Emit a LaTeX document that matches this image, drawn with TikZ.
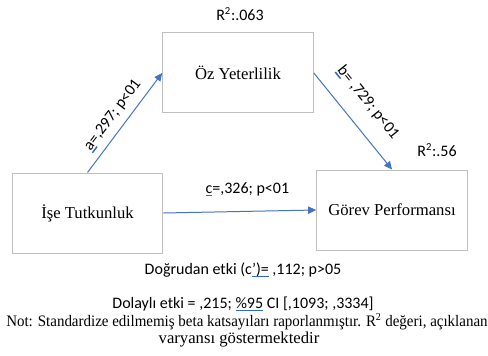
\documentclass[tikz,border=0pt]{standalone}
\usepackage{fontspec}
\usepackage{graphicx}
\setmainfont{Liberation Serif}
\newfontfamily\calibri{Carlito}
\usetikzlibrary{arrows.meta}
\definecolor{arrowblue}{HTML}{4472C4}
\definecolor{boxgray}{HTML}{BFBFBF}
\definecolor{markblue}{HTML}{2F66D0}
% blue underline mark under a word
\newcommand{\wordmark}[1]{\setbox0\hbox{#1}\rlap{\color{markblue}\rule[-2.2pt]{\wd0}{1.1pt}}\box0\relax}
\begin{document}
\begin{tikzpicture}[x=0.75pt, y=-0.75pt,
    var/.style={draw=boxgray, line width=0.75pt, minimum width=113pt, minimum height=60pt, font=\fontsize{12.5}{15}\selectfont},
    effect/.style={draw=arrowblue, line width=0.75pt, -{Triangle[length=6pt, width=5.5pt]}},
    coef/.style={font=\calibri\fontsize{12}{14}\selectfont}]
\useasboundingbox (0,0) rectangle (488,356);
\node[var] (oz) at (238,73) {Öz Yeterlilik};
\node[var] (ise) at (87.5,213) {İşe Tutkunluk};
\node[var] (gorev) at (392,210) {Görev Performansı};
\draw[effect] (ise.north) -- node[coef, sloped, above, pos=0.49, inner sep=5pt] {\wordmark{a}=,297; p<01} (oz.west);
\draw[effect] (oz.east) -- node[coef, sloped, above, pos=0.46, inner sep=12pt] {\wordmark{b}= ,729; p<01} (gorev.north);
\draw[effect] (ise.east) -- node[coef, above, pos=0.55, inner sep=11pt] {\wordmark{c}=,326; p<01} (gorev.west);
\node[coef] (r2oz) at (240,14) {R\textsuperscript{2}:.063};
\node[coef] (r2gorev) at (437,150) {R\textsuperscript{2}:.56};
\node[coef] (direct) at (243,270) {Doğrudan etki (c\wordmark{’)=} ,112; p>05};
\node[coef] (indirect) at (243,304) {Dolaylı etki = ,215; \wordmark{\%95} CI [,1093; ,3334]};
\node[anchor=west, inner sep=0pt, font=\fontsize{12}{14}\selectfont] (note1) at (6,322) {\resizebox{361pt}{\height}{Not: Standardize edilmemiş beta katsayıları raporlanmıştır. R\textsuperscript{2} değeri, açıklanan}};
\node[inner sep=0pt, font=\fontsize{12.5}{14}\selectfont] (note2) at (239,340) {varyansı göstermektedir};
\end{tikzpicture}
\end{document}
